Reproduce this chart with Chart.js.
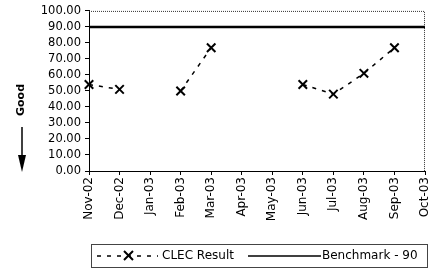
<!DOCTYPE html>
<html>
<head>
<meta charset="utf-8">
<script src="https://cdn.jsdelivr.net/npm/chart.js@4/dist/chart.umd.min.js"></script>
<style>
  html, body { margin: 0; padding: 0; background: #fff; }
  #wrap { width: 433px; height: 274px; position: relative; }
</style>
</head>
<body>
<div id="wrap"><canvas id="c" width="433" height="274"></canvas></div>
<script>
const months = ["Nov-02", "Dec-02", "Jan-03", "Feb-03", "Mar-03", "Apr-03",
                "May-03", "Jun-03", "Jul-03", "Aug-03", "Sep-03", "Oct-03"];
const clecResult = [54, 51, null, 50, 77, null, null, 54, 48, 61, 77, null];
const benchmark = [90, 90, 90, 90, 90, 90, 90, 90, 90, 90, 90, 90];
const yTicks = [0, 10, 20, 30, 40, 50, 60, 70, 80, 90, 100];

const FONT = "'DejaVu Sans', sans-serif";

// plot frame + "Good" arrow + legend box
const decorations = {
  id: "decorations",
  beforeDatasetsDraw(chart) {
    const { ctx, chartArea: a } = chart;
    ctx.save();
    ctx.strokeStyle = "#333";
    ctx.lineWidth = 1;
    ctx.setLineDash([1, 1]);
    ctx.beginPath();
    ctx.moveTo(a.left, a.top + 0.5);
    ctx.lineTo(a.right - 0.5, a.top + 0.5);
    ctx.lineTo(a.right - 0.5, a.bottom);
    ctx.stroke();
    ctx.restore();
  },
  afterDraw(chart) {
    const ctx = chart.ctx;
    ctx.save();
    // "Good" label
    ctx.fillStyle = "#000";
    ctx.font = "bold 11px " + FONT;
    ctx.translate(21, 100);
    ctx.rotate(-Math.PI / 2);
    ctx.textAlign = "center";
    ctx.textBaseline = "middle";
    ctx.fillText("Good", 0, 0);
    ctx.restore();

    ctx.save();
    ctx.strokeStyle = "#000";
    ctx.lineWidth = 1.5;
    ctx.beginPath();
    ctx.moveTo(22, 127);
    ctx.lineTo(22, 158);
    ctx.stroke();
    ctx.beginPath();
    ctx.moveTo(18, 155);
    ctx.lineTo(26, 155);
    ctx.lineTo(22, 172);
    ctx.closePath();
    ctx.fill();

    // legend
    const ds = chart.data.datasets;
    ctx.lineWidth = 1;
    ctx.strokeStyle = "#444";
    ctx.setLineDash([]);
    ctx.strokeRect(91.5, 244.5, 336, 23);
    const cy = 256;
    ctx.strokeStyle = "#000";
    ctx.lineWidth = ds[0].borderWidth;
    ctx.setLineDash(ds[0].borderDash);
    ctx.beginPath();
    ctx.moveTo(97, cy);
    ctx.lineTo(158, cy);
    ctx.stroke();
    ctx.setLineDash([]);
    ctx.lineWidth = 2;
    ctx.beginPath();
    ctx.moveTo(124, cy - 5); ctx.lineTo(133, cy + 4);
    ctx.moveTo(133, cy - 5); ctx.lineTo(124, cy + 4);
    ctx.stroke();
    ctx.font = "12px " + FONT;
    ctx.textBaseline = "middle";
    ctx.textAlign = "left";
    ctx.fillStyle = "#000";
    ctx.fillText(ds[0].label, 162, cy);
    ctx.lineWidth = 1.5;
    ctx.beginPath();
    ctx.moveTo(248, cy);
    ctx.lineTo(321, cy);
    ctx.stroke();
    ctx.fillText(ds[1].label, 322, cy);
    ctx.restore();
  }
};

new Chart(document.getElementById("c"), {
  type: "line",
  data: {
    labels: months,
    datasets: [
      {
        label: "CLEC Result",
        data: clecResult,
        borderColor: "#000",
        borderWidth: 1.5,
        borderDash: [4, 6],
        pointStyle: "crossRot",
        pointRadius: 6,
        pointBorderWidth: 2,
        pointBorderColor: "#000",
        spanGaps: false,
        fill: false,
      },
      {
        label: "Benchmark - 90",
        data: benchmark,
        borderColor: "#000",
        borderWidth: 2.5,
        pointRadius: 0,
        fill: false,
      },
    ],
  },
  options: {
    responsive: false,
    animation: false,
    layout: { padding: { top: 10, right: 5, left: 0, bottom: 0 } },
    plugins: { legend: { display: false }, tooltip: { enabled: false } },
    scales: {
      x: {
        offset: false,
        grid: { display: true, drawOnChartArea: false, tickLength: 4, color: "#000" },
        border: { color: "#000", width: 1 },
        ticks: {
          color: "#000",
          font: { family: FONT, size: 12 },
          minRotation: 90,
          maxRotation: 90,
          autoSkip: false,
          padding: 2,
        },
        afterFit(scale) {
          scale.height = 103;
          scale.paddingLeft = 0;
          scale.paddingRight = 0;
        },
      },
      y: {
        min: 0,
        max: 100,
        afterBuildTicks(scale) {
          scale.ticks = yTicks.map((v) => ({ value: v }));
        },
        grid: { display: true, drawOnChartArea: false, tickLength: 4, color: "#000" },
        border: { color: "#000", width: 1 },
        ticks: {
          color: "#000",
          autoSkip: false,
          font: { family: FONT, size: 11.5 },
          padding: 4,
          callback: (v) => Number(v).toFixed(2),
        },
        afterFit(scale) {
          scale.width = 89;
        },
      },
    },
  },
  plugins: [decorations],
});
</script>
</body>
</html>
